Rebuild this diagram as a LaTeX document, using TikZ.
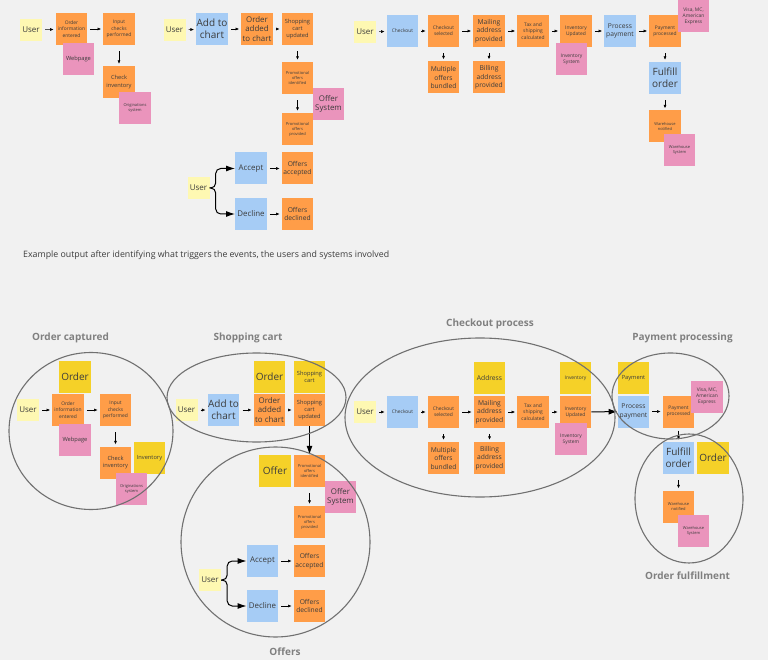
\documentclass[tikz,border=0pt]{standalone}
\usepackage{fontspec}
\setmainfont{Open Sans}
\usepackage{xcolor}
\usetikzlibrary{arrows.meta, positioning, shapes.geometric}
\definecolor{bgc}{HTML}{F1F1F1}
\definecolor{usrc}{HTML}{FEF8B2}
\definecolor{evtc}{HTML}{FF9D48}
\definecolor{sysc}{HTML}{EA94BC}
\definecolor{cmdc}{HTML}{A6CCF5}
\definecolor{aggc}{HTML}{F5D128}
\definecolor{txtc}{HTML}{3C3C3C}
\definecolor{grpc}{HTML}{707070}
\definecolor{ttlc}{HTML}{808080}

\begin{document}
\begin{tikzpicture}[x=1pt, y=-1pt,
  note/.style={rectangle, minimum width=31.5pt, minimum height=32pt, inner sep=0.5pt, align=center, text=txtc},
  usr/.style={note, fill=usrc, minimum width=22pt, minimum height=22pt, font=\fontsize{8}{9.6}\selectfont},
  evt/.style={note, fill=evtc},
  sys/.style={note, fill=sysc},
  cmd/.style={note, fill=cmdc},
  agg/.style={note, fill=aggc},
  fA/.style={font=\fontsize{4}{5}\selectfont},
  fB/.style={font=\fontsize{4.9}{6.2}\selectfont},
  fC/.style={font=\fontsize{5.7}{7.4}\selectfont},
  fD/.style={font=\fontsize{6.7}{8.5}\selectfont},
  fE/.style={font=\fontsize{7.9}{9.7}\selectfont},
  fF/.style={font=\fontsize{10}{11.6}\selectfont},
  grp/.style={ellipse, draw=grpc, line width=1.1pt, inner sep=0pt},
  ttl/.style={font=\fontsize{10}{12}\selectfont\bfseries, text=ttlc},
  sarr/.style={-{Latex[length=3.5pt, width=3pt]}, line width=0.5pt, shorten <=3pt, shorten >=2pt},
  barr/.style={-{Latex[length=9pt, width=6pt]}, line width=1pt}
]
  \fill[bgc] (0,0) rectangle (768,660);
  \useasboundingbox (0,0) rectangle (768,660);

  % Top: order captured
  \node[usr] (u1) at (31,30) {User};
  \node[evt, fB] (oie1) at (71.5,29) {Order\\information\\entered};
  \node[evt, fB] (icp1) at (119,29) {Input\\checks\\performed};
  \node[sys, fC] (web1) at (78.5,59) {Webpage};
  \node[evt, fC] (chk1) at (119,82) {Check\\inventory};
  \node[sys, fA] (ori1) at (135,108.5) {Originations\\system};
  \draw[sarr] (u1) -- (oie1);
  \draw[sarr] (oie1) -- (icp1);
  \draw[sarr, shorten <=6pt] (icp1) -- (chk1);

  % Top: shopping cart and offers
  \node[usr] (u2) at (174.5,30) {User};
  \node[cmd, fF] (add1) at (212,29) {Add to\\chart};
  \node[evt, fE] (oac1) at (257,29) {Order\\added\\to chart};
  \node[evt, fC] (scu1) at (297.5,29) {Shopping\\cart\\updated};
  \node[evt, fA] (poi1) at (297.5,78) {Promotional\\offers\\identified};
  \node[evt, fA] (pop1) at (297.5,129) {Promotional\\offers\\provided};
  \node[sys, fE] (osy1) at (328.5,104) {Offer\\System};
  \draw[sarr] (u2) -- (add1);
  \draw[sarr] (add1) -- (oac1);
  \draw[sarr] (oac1) -- (scu1);
  \draw[sarr, shorten <=6pt] (scu1) -- (poi1);
  \draw[sarr, shorten <=6pt] (poi1) -- (pop1);

  \node[usr] (u3) at (198.5,188) {User};
  \node[cmd, fE] (acc1) at (251,168.5) {Accept};
  \node[evt, fD] (ofa1) at (297.5,168.5) {Offers\\accepted};
  \node[cmd, fE] (dec1) at (251,214) {Decline};
  \node[evt, fD] (ofd1) at (297.5,214) {Offers\\declined};
  \draw[barr, rounded corners=5pt] (u3.east) -- ++(6,0) |- (acc1.west);
  \draw[barr, rounded corners=5pt] (u3.east) -- ++(6,0) |- (dec1.west);
  \draw[sarr] (acc1) -- (ofa1);
  \draw[sarr] (dec1) -- (ofd1);

  % Top: checkout and payment
  \node[usr] (u4) at (365,32) {User};
  \node[cmd, fB] (cko1) at (402.5,31) {Checkout};
  \node[evt, fB] (cks1) at (443.5,31) {Checkout\\selected};
  \node[evt, fD] (map1) at (489,31) {Mailing\\address\\provided};
  \node[evt, fB] (tax1) at (533,31) {Tax and\\shipping\\calculated};
  \node[evt, fD] (mob1) at (443.5,77.5) {Multiple\\offers\\bundled};
  \node[evt, fD] (bap1) at (489,77.5) {Billing\\address\\provided};
  \node[evt, fB] (inu1) at (576,31) {Inventory\\Updated};
  \node[sys, fB] (ins1) at (571.5,59) {Inventory\\System};
  \node[cmd, fD] (prp1) at (620,31) {Process\\payment};
  \node[evt, fB] (pap1) at (665,31) {Payment\\processed};
  \node[sys, fB] (vis1) at (693.5,16) {Visa, MC,\\American\\Express};
  \node[cmd, fF] (ful1) at (665,78) {Fulfill\\order};
  \node[evt, fA] (wan1) at (665,126.5) {Warehouse\\notified};
  \node[sys, fA] (was1) at (679.5,150) {Warehouse\\System};
  \draw[sarr] (u4) -- (cko1);
  \draw[sarr] (cko1) -- (cks1);
  \draw[sarr] (cks1) -- (map1);
  \draw[sarr] (map1) -- (tax1);
  \draw[sarr] (tax1) -- (inu1);
  \draw[sarr] (inu1) -- (prp1);
  \draw[sarr] (prp1) -- (pap1);
  \draw[sarr, shorten <=6pt] (cks1) -- (mob1);
  \draw[sarr, shorten <=6pt] (map1) -- (bap1);
  \draw[sarr, shorten <=6pt] (pap1) -- (ful1);
  \draw[sarr, shorten <=6pt] (ful1) -- (wan1);

  % Caption
  \node[anchor=west, inner sep=0pt, text=txtc, font=\fontsize{8.8}{10}\selectfont] (cap) at (23,255.5)
    {Example output after identifying what triggers the events, the users and systems involved};

  % Bottom: order captured
  \node[agg, fF] (ord2) at (75,377) {Order};
  \node[usr] (u5) at (28,410) {User};
  \node[evt, fB] (oie2) at (68,410) {Order\\information\\entered};
  \node[evt, fB] (icp2) at (115.5,410) {Input\\checks\\performed};
  \node[sys, fC] (web2) at (75,440) {Webpage};
  \node[evt, fC] (chk2) at (115.5,462.5) {Check\\inventory};
  \node[agg, fC] (inv2) at (149.5,458) {Inventory};
  \node[sys, fA] (ori2) at (131.5,489) {Originations\\system};
  \draw[sarr] (u5) -- (oie2);
  \draw[sarr] (oie2) -- (icp2);
  \draw[sarr, shorten <=6pt] (icp2) -- (chk2);

  % Bottom: shopping cart
  \node[usr] (u6) at (186.5,410) {User};
  \node[cmd, fF] (add2) at (223.5,410) {Add to\\chart};
  \node[agg, fF] (ord3) at (269.5,377) {Order};
  \node[evt, fE] (oac2) at (269.5,410) {Order\\added\\to chart};
  \node[agg, fC] (scr2) at (309.5,377) {Shopping\\cart};
  \node[evt, fC] (scu2) at (309.5,410) {Shopping\\cart\\updated};
  \draw[sarr] (u6) -- (add2);
  \draw[sarr] (add2) -- (oac2);
  \draw[sarr] (oac2) -- (scu2);

  % Bottom: offers
  \node[agg, fF] (off2) at (275,471) {Offer};
  \node[evt, fA] (poi2) at (309.5,471) {Promotional\\offers\\identified};
  \node[evt, fA] (pop2) at (309.5,522) {Promotional\\offers\\provided};
  \node[sys, fE] (osy2) at (340.5,497) {Offer\\System};
  \node[usr] (u7) at (210,580) {User};
  \node[cmd, fE] (acc2) at (262.5,561) {Accept};
  \node[evt, fD] (ofa2) at (309.5,561) {Offers\\accepted};
  \node[cmd, fE] (dec2) at (262.5,606) {Decline};
  \node[evt, fD] (ofd2) at (309.5,606) {Offers\\declined};
  \draw[barr] (scu2) -- (poi2);
  \draw[sarr, shorten <=6pt] (poi2) -- (pop2);
  \draw[barr, rounded corners=5pt] (u7.east) -- ++(6,0) |- (acc2.west);
  \draw[barr, rounded corners=5pt] (u7.east) -- ++(6,0) |- (dec2.west);
  \draw[sarr] (acc2) -- (ofa2);
  \draw[sarr] (dec2) -- (ofd2);

  % Bottom: checkout process
  \node[usr] (u8) at (365,412) {User};
  \node[cmd, fB] (cko2) at (402.5,412) {Checkout};
  \node[evt, fB] (cks2) at (443.5,412) {Checkout\\selected};
  \node[agg, fD] (adr2) at (489.5,378) {Address};
  \node[evt, fD] (map2) at (489.5,412) {Mailing\\address\\provided};
  \node[evt, fB] (tax2) at (533,412) {Tax and\\shipping\\calculated};
  \node[agg, fB] (inv3) at (575.5,378) {Inventory};
  \node[evt, fB] (inu2) at (575.5,412) {Inventory\\Updated};
  \node[sys, fB] (ins2) at (571,439) {Inventory\\System};
  \node[evt, fD] (mob2) at (443.5,458) {Multiple\\offers\\bundled};
  \node[evt, fD] (bap2) at (489.5,458) {Billing\\address\\provided};
  \draw[sarr] (u8) -- (cko2);
  \draw[sarr] (cko2) -- (cks2);
  \draw[sarr] (cks2) -- (map2);
  \draw[sarr] (map2) -- (tax2);
  \draw[sarr] (tax2) -- (inu2);
  \draw[sarr, shorten <=6pt] (cks2) -- (mob2);
  \draw[sarr, shorten <=6pt] (map2) -- (bap2);

  % Bottom: payment and fulfillment
  \node[agg, fC] (pay2) at (633.5,378) {Payment};
  \node[cmd, fD] (prp2) at (633.5,411.5) {Process\\payment};
  \node[evt, fB] (pap2) at (678.5,411.5) {Payment\\processed};
  \node[sys, fB] (vis2) at (707,396.5) {Visa, MC,\\American\\Express};
  \node[cmd, fF] (ful2) at (678.5,458) {Fulfill\\order};
  \node[agg, fF] (ord4) at (713,458) {Order};
  \node[evt, fA] (wan2) at (678.5,506.5) {Warehouse\\notified};
  \node[sys, fA] (was2) at (693.5,531) {Warehouse\\System};
  \draw[barr] (inu2) -- (prp2);
  \draw[sarr] (prp2) -- (pap2);
  \draw[sarr] (pap2) -- (ful2);
  \draw[sarr, shorten <=6pt] (ful2) -- (wan2);

  % Groups
  \node[grp, minimum width=164pt, minimum height=157pt] (gord) at (91,431) {};
  \node[grp, minimum width=179pt, minimum height=89pt] (gcart) at (256.5,397.5) {};
  \node[grp, minimum width=189pt, minimum height=190pt] (goff) at (275.5,542) {};
  \node[grp, minimum width=270pt, minimum height=159pt] (gcko) at (480,417.5) {};
  \node[grp, minimum width=117pt, minimum height=86pt] (gpay) at (670.5,396) {};
  \node[grp, minimum width=108pt, minimum height=129pt] (gful) at (689,498.5) {};

  % Titles
  \node[ttl] (t1) at (70.5,338) {Order captured};
  \node[ttl] (t2) at (248,338) {Shopping cart};
  \node[ttl] (t3) at (490,324) {Checkout process};
  \node[ttl] (t4) at (682.5,338) {Payment processing};
  \node[ttl] (t5) at (285,652) {Offers};
  \node[ttl] (t6) at (687.5,576) {Order fulfillment};
\end{tikzpicture}
\end{document}
